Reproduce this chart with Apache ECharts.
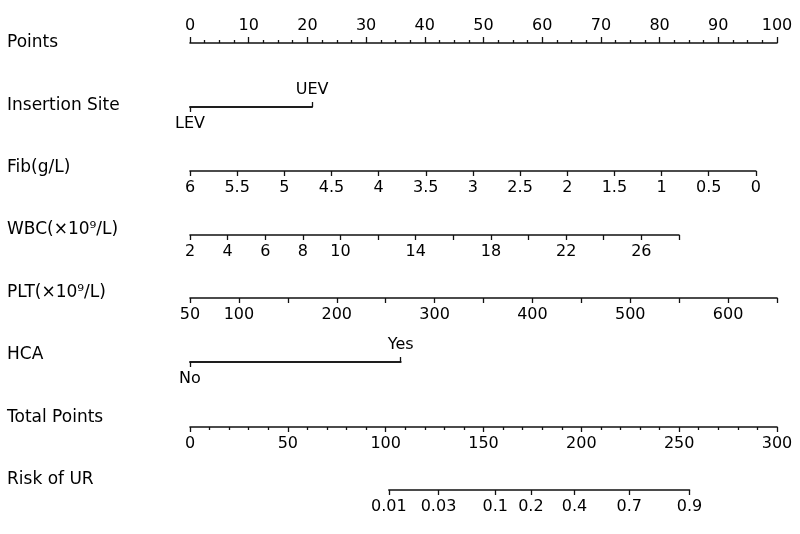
<!DOCTYPE html>
<html>
<head>
<meta charset="utf-8">
<script src="https://cdn.jsdelivr.net/npm/echarts@6/dist/echarts.min.js"></script>
<style>html,body{margin:0;background:#fff}#main{width:800px;height:534px}</style>
</head>
<body>
<div id="main"></div>
<script>
// row names and where each row sits
var rowNames = ['Points', 'Insertion Site', 'Fib(g/L)', 'WBC(×10⁹/L)', 'PLT(×10⁹/L)', 'HCA', 'Total Points', 'Risk of UR'];
var rowLabelY = [43, 106, 168, 230, 293, 355, 418, 480];
var rowLineY = [43, 107, 171, 235, 298, 362, 427, 490];

// scales (points each end of a row maps to)
var pointsRange = [0, 100];
var insertionSite = ['LEV', 'UEV'];
var insertionPts = [0, 20.8];
var fibRange = [0, 6];          // drawn reversed: 6 on the left
var fibPts = [0, 96.4];         // points at fib 6 and fib 0
var wbcRange = [2, 28];
var wbcPts = [0, 83.3];
var wbcLabels = [2, 4, 6, 8, 10, 14, 18, 22, 26];
var pltRange = [50, 650];
var pltPts = [0, 100];
var pltLabels = [50, 100, 200, 300, 400, 500, 600];
var hca = ['No', 'Yes'];
var hcaPts = [0, 35.9];
var totalRange = [0, 300];
var riskProbs = [0.01, 0.03, 0.1, 0.2, 0.4, 0.7, 0.9];
var riskTotalPts = [101.6, 127.0, 156.0, 174.2, 196.5, 224.5, 255.3];

var x0 = 190, pxPerPt = 587 / 100;
function px(p) { return x0 + p * pxPerPt; }
function pxTotal(t) { return px(t * pointsRange[1] / totalRange[1]); }

var FONT = 'DejaVu Sans';
var grids = [], xAxes = [], yAxes = [];

function baseAxis(extra) {
  var a = {
    type: 'value',
    axisLine: { show: true, onZero: false, lineStyle: { color: '#111', width: 1.6 } },
    axisTick: { show: true, length: 5, lineStyle: { color: '#111', width: 1.3 } },
    axisLabel: { color: '#000', fontSize: 16, fontFamily: FONT, margin: 9, showMinLabel: true, showMaxLabel: true },
    splitLine: { show: false }
  };
  for (var k in extra) {
    if (typeof extra[k] === 'object' && !Array.isArray(extra[k]) && a[k]) {
      for (var j in extra[k]) a[k][j] = extra[k][j];
    } else a[k] = extra[k];
  }
  return a;
}

function addRow(i, left, right, axes) {
  var g = grids.length;
  grids.push({ left: left, width: right - left, top: rowLineY[i], height: 0, outerBoundsMode: 'none' });
  yAxes.push({ gridIndex: g, type: 'value', show: false });
  axes.forEach(function (a) { a.gridIndex = g; xAxes.push(a); });
}

// Points
addRow(0, px(pointsRange[0]), px(pointsRange[1]), [baseAxis({
  position: 'top', min: pointsRange[0], max: pointsRange[1], interval: 10,
  axisTick: { length: 6 },
  minorTick: { show: true, splitNumber: 4, length: 3, lineStyle: { color: '#111', width: 1.3 } }
})]);

// Insertion Site
addRow(1, px(insertionPts[0]), px(insertionPts[1]), [
  baseAxis({
    position: 'bottom', min: insertionPts[0], max: insertionPts[1],
    axisTick: { customValues: [insertionPts[0]] },
    axisLabel: { customValues: [insertionPts[0]], formatter: function () { return insertionSite[0]; } }
  }),
  baseAxis({
    position: 'top', min: insertionPts[0], max: insertionPts[1],
    axisTick: { customValues: [insertionPts[1]] },
    axisLabel: { customValues: [insertionPts[1]], formatter: function () { return insertionSite[1]; } }
  })
]);

// Fib
addRow(2, px(fibPts[0]), px(fibPts[1]), [baseAxis({
  position: 'bottom', inverse: true, min: fibRange[0], max: fibRange[1], interval: 0.5
})]);

// WBC
addRow(3, px(wbcPts[0]), px(wbcPts[1]), [baseAxis({
  position: 'bottom', min: wbcRange[0], max: wbcRange[1], interval: 2,
  axisLabel: { customValues: wbcLabels }
})]);

// PLT
addRow(4, px(pltPts[0]), px(pltPts[1]), [baseAxis({
  position: 'bottom', min: pltRange[0], max: pltRange[1], interval: 50,
  axisLabel: { customValues: pltLabels }
})]);

// HCA
addRow(5, px(hcaPts[0]), px(hcaPts[1]), [
  baseAxis({
    position: 'bottom', min: hcaPts[0], max: hcaPts[1],
    axisTick: { customValues: [hcaPts[0]] },
    axisLabel: { customValues: [hcaPts[0]], formatter: function () { return hca[0]; } }
  }),
  baseAxis({
    position: 'top', min: hcaPts[0], max: hcaPts[1],
    axisTick: { customValues: [hcaPts[1]] },
    axisLabel: { customValues: [hcaPts[1]], formatter: function () { return hca[1]; } }
  })
]);

// Total Points
addRow(6, pxTotal(totalRange[0]), pxTotal(totalRange[1]), [baseAxis({
  position: 'bottom', min: totalRange[0], max: totalRange[1], interval: 50,
  axisTick: { length: 5 },
  minorTick: { show: true, splitNumber: 5, length: 3, lineStyle: { color: '#111', width: 1.3 } }
})]);

// Risk of UR
var rLo = riskTotalPts[0], rHi = riskTotalPts[riskTotalPts.length - 1];
addRow(7, pxTotal(rLo), pxTotal(rHi), [baseAxis({
  position: 'bottom', min: rLo, max: rHi,
  axisTick: { customValues: riskTotalPts },
  axisLabel: {
    customValues: riskTotalPts,
    formatter: function (v) {
      var best = 0;
      for (var k = 1; k < riskTotalPts.length; k++) {
        if (Math.abs(riskTotalPts[k] - v) < Math.abs(riskTotalPts[best] - v)) best = k;
      }
      return String(riskProbs[best]);
    }
  }
})]);

var texts = rowNames.map(function (name, i) {
  return {
    type: 'text', x: 7, y: rowLabelY[i],
    style: { text: name, fill: '#000', font: '17px "' + FONT + '"', verticalAlign: 'middle' }
  };
});

var myChart = echarts.init(document.getElementById('main'));
var option = {
  animation: false,
  backgroundColor: '#fff',
  grid: grids,
  xAxis: xAxes,
  yAxis: yAxes,
  graphic: texts,
  series: []
};
myChart.setOption(option);
</script>
</body>
</html>
